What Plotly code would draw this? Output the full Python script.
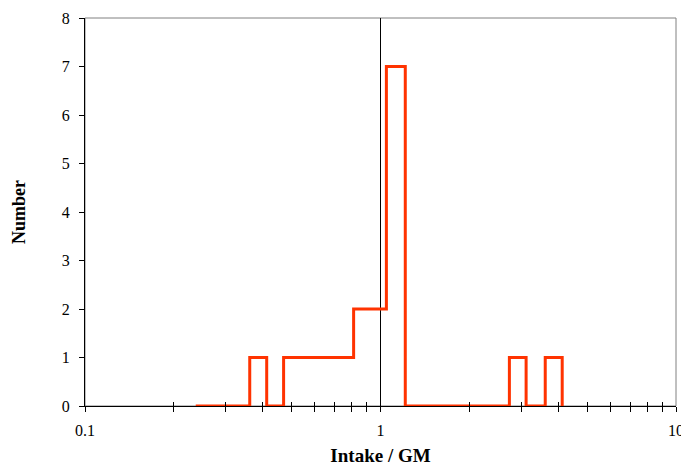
import plotly.graph_objects as go

# Histogram step outline (bin edges on log scale, count after each edge)
edges = [0.237, 0.361, 0.412, 0.470, 0.811, 1.047, 1.213, 2.73, 3.11, 3.61, 4.12]
counts = [0, 1, 0, 1, 2, 7, 0, 1, 0, 1, 0]

x_ticks = [0.1, 1, 10]
x_tick_labels = ["0.1", "1", "10"]
x_minor = [0.2, 0.3, 0.4, 0.5, 0.6, 0.7, 0.8, 0.9, 2, 3, 4, 5, 6, 7, 8, 9]
y_ticks = [0, 1, 2, 3, 4, 5, 6, 7, 8]

RED = "#FF3300"
FONT = "Liberation Serif"

fig = go.Figure()
fig.add_trace(go.Scatter(
    x=edges, y=counts, mode="lines", line=dict(color=RED, width=3, shape="hv"),
    showlegend=False, xaxis="x", yaxis="y",
))

xr = [-1, 1]
fig.update_layout(
    width=681, height=466,
    margin=dict(l=85, r=5, t=18, b=60, autoexpand=False),
    paper_bgcolor="white", plot_bgcolor="white",
    font=dict(family=FONT, size=16, color="black"),
    xaxis=dict(
        type="log", range=xr, tickvals=x_ticks, ticktext=x_tick_labels,
        ticks="outside", ticklen=5, tickcolor="black", showgrid=False, zeroline=False,
        showline=True, linecolor="black", linewidth=1, automargin=False,
        ticklabeloverflow="allow", ticklabelstandoff=5,
        minor=dict(ticks="outside", ticklen=5, tickcolor="black", showgrid=False,
                   tickmode="array", tickvals=x_minor),
        title=dict(text="<b>Intake / GM</b>", font=dict(size=19, family=FONT), standoff=15),
        tickfont=dict(size=16, family=FONT),
    ),
    xaxis2=dict(
        type="log", range=xr, overlaying="x", anchor="y", side="bottom",
        tickvals=x_ticks, showticklabels=False, automargin=False,
        ticks="inside", ticklen=4, tickcolor="black", showgrid=False, zeroline=False,
        showline=False,
        minor=dict(ticks="inside", ticklen=4, tickcolor="black", showgrid=False,
                   tickmode="array", tickvals=x_minor),
    ),
    yaxis=dict(
        range=[0, 8], tickvals=y_ticks, ticks="outside", ticklen=5, tickcolor="black",
        showgrid=False, zeroline=False, showline=True, linecolor="black", linewidth=1,
        automargin=False, ticklabelstandoff=6,
        title=dict(text="<b>Number</b>", font=dict(size=18, family=FONT), standoff=31),
        tickfont=dict(size=16, family=FONT),
    ),
    shapes=[
        dict(type="rect", xref="paper", yref="paper", x0=0, x1=1, y0=0, y1=1,
             line=dict(color="#808080", width=1), layer="below"),
        dict(type="line", xref="x", yref="paper", x0=1, x1=1, y0=0, y1=1,
             line=dict(color="black", width=1), layer="below"),
    ],
)
# dummy trace so xaxis2 renders
fig.add_trace(go.Scatter(x=[1], y=[None], xaxis="x2", yaxis="y", showlegend=False, hoverinfo="skip"))

fig.write_html(
    "out.html",
    config={"displayModeBar": False},
    post_script="document.body.style.margin='0';document.body.style.overflow='hidden';",
)
